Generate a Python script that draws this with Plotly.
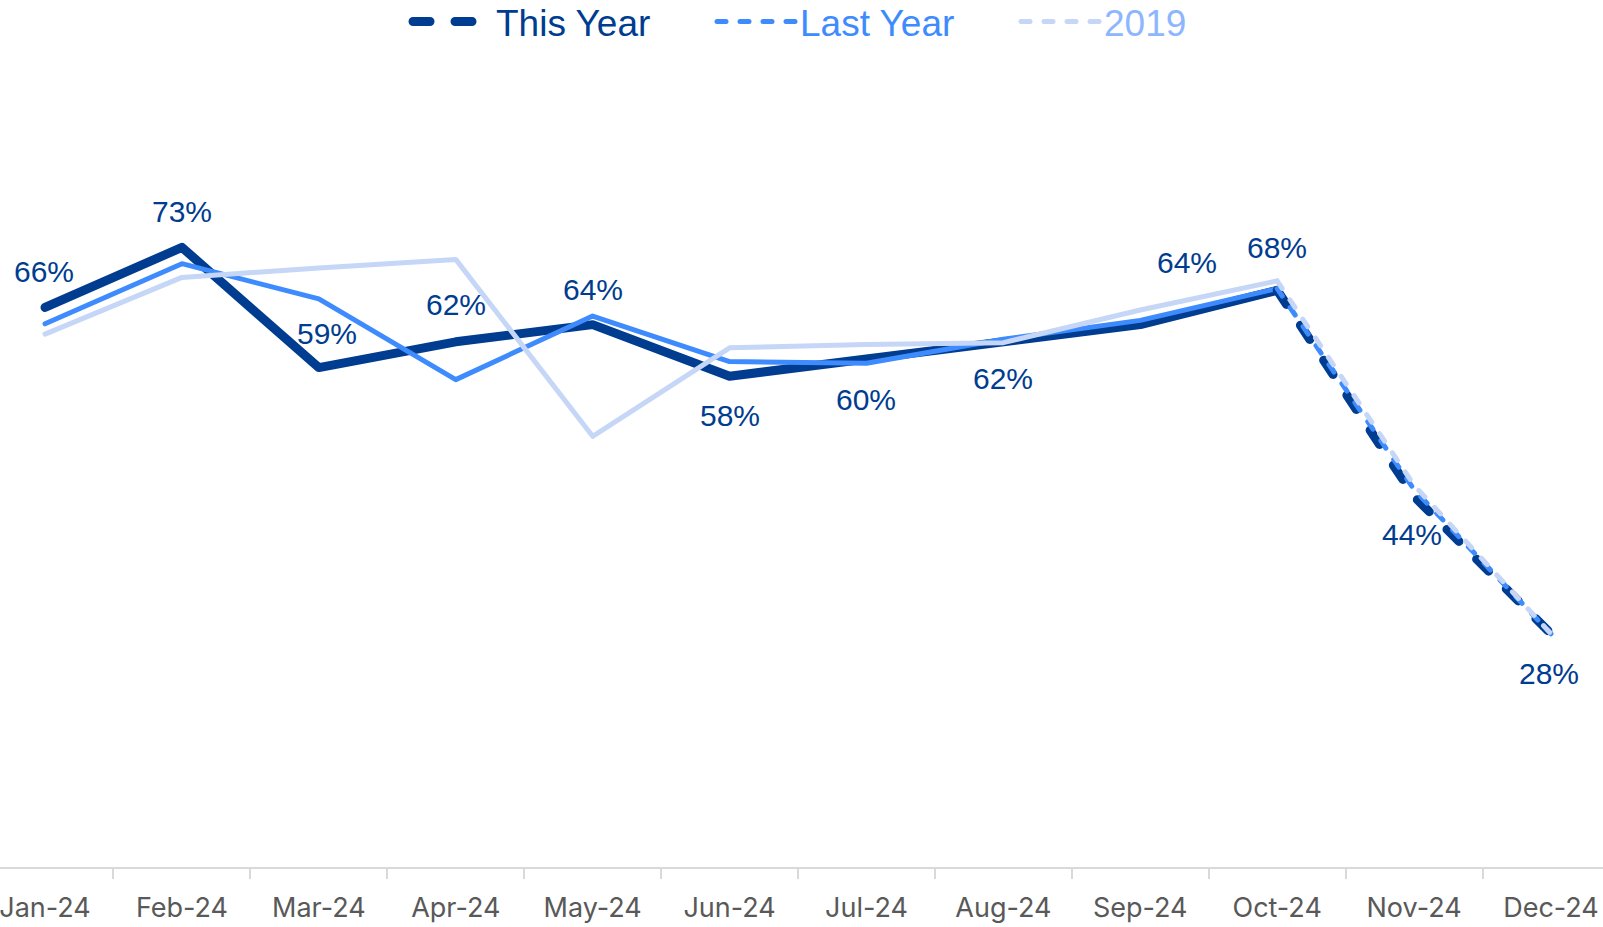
import plotly.graph_objects as go

# Monthly share, Jan–Dec 2024; Nov/Dec are the projected part of each series
months = ["Jan-24", "Feb-24", "Mar-24", "Apr-24", "May-24", "Jun-24",
          "Jul-24", "Aug-24", "Sep-24", "Oct-24", "Nov-24", "Dec-24"]
this_year = [66, 73, 59, 62, 64, 58, 60, 62, 64, 68, 44, 28]
last_year = [64.1, 71.1, 67.0, 57.6, 65.0, 59.7, 59.5, 62.3, 64.5, 68.2, 44.8, 28.0]
year_2019 = [62.9, 69.5, 70.6, 71.6, 51.0, 61.3, 61.7, 61.9, 65.7, 69.1, 45.3, 28.0]

ACTUAL_END = 10  # Jan..Oct are actuals, Oct..Dec drawn dashed

NAVY = "#003C8F"
BLUE = "#3D8BFD"
PALE = "#C6D6F7"
PALE_TXT = "#8DB6FF"

series = [
    ("This Year", this_year, NAVY, NAVY, 9, "17px,25px"),
    ("Last Year", last_year, BLUE, BLUE, 5, "9px,14px"),
    ("2019", year_2019, PALE, PALE_TXT, 5, "9px,14px"),
]

fig = go.Figure()

# solid actuals
for name, vals, color, _, width, _ in series:
    fig.add_trace(go.Scatter(
        x=months[:ACTUAL_END], y=vals[:ACTUAL_END], mode="lines",
        line=dict(color=color, width=width), showlegend=False,
        hoverinfo="skip"))

# dashed projection (carries the legend entry)
for name, vals, color, txt_color, width, dash in series:
    fig.add_trace(go.Scatter(
        x=months[ACTUAL_END - 1:], y=vals[ACTUAL_END - 1:], mode="lines",
        line=dict(color=color, width=width, dash=dash),
        name=f"<span style='color:{txt_color}'>{name}</span>",
        hoverinfo="skip"))

# value labels for this year's series, nudged off the line
label_shift = [(-1, 36), (0, 36), (8, 34), (0, 37), (0, 35), (0, -39),
               (0, -40), (0, -37), (47, 62), (0, 43), (-2, -38), (-2, -40)]
for m, v, (dx, dy) in zip(months, this_year, label_shift):
    fig.add_annotation(
        x=m, y=v, text=f"{v:.0f}%", showarrow=False,
        xshift=dx, yshift=dy,
        font=dict(family="Liberation Sans, Arial, sans-serif", size=30, color=NAVY))

fig.update_layout(
    width=1603, height=927,
    margin=dict(l=0, r=0, t=60, b=60, autoexpand=False),
    paper_bgcolor="white", plot_bgcolor="white",
    font=dict(family="Liberation Sans, Arial, sans-serif"),
    legend=dict(
        orientation="h", x=0.539, xanchor="center",
        y=1.0855, yref="paper", yanchor="top",
        font=dict(size=37), entrywidth=211, itemwidth=78,
        bgcolor="rgba(0,0,0,0)"),
    xaxis=dict(
        type="category", range=[-0.329, 11.38],
        showgrid=False, zeroline=False,
        showline=True, linecolor="#D9D9D9", linewidth=2,
        ticks="outside", tickson="boundaries", ticklen=10,
        tickcolor="#D9D9D9", tickwidth=2, ticklabelstandoff=16,
        tickfont=dict(size=27, color="#595959",
                      family="Inter, Liberation Sans, Arial, sans-serif")),
    yaxis=dict(range=[0.84, 94.82], visible=False, showgrid=False,
               zeroline=False),
)

round_caps = (
    "document.querySelectorAll('path.js-line').forEach(function(p){"
    "p.style.strokeLinecap='round';p.style.strokeLinejoin='round';});"
)
fig.write_html("out.html", post_script=round_caps)
